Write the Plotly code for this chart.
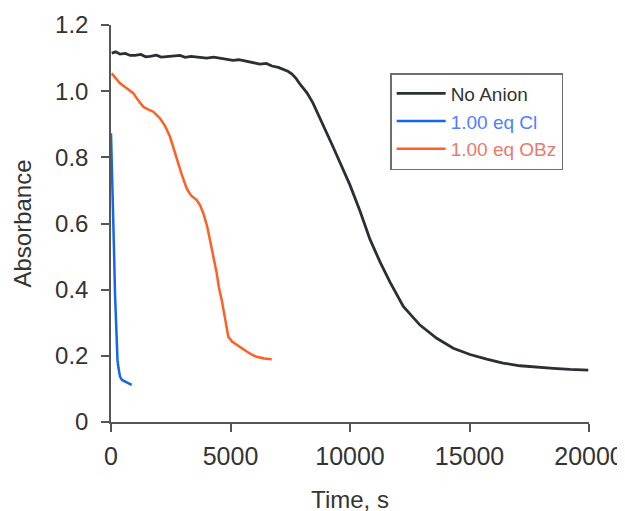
import plotly.graph_objects as go

# ---- data ----
t_none = [30, 200, 377, 600, 800, 1004, 1250, 1450, 1632, 1900, 2100, 2330, 2600, 2887, 3100,
          3350, 3724, 4000, 4300, 4561, 4850, 5105, 5350, 5607, 5900, 6234, 6500, 6736, 7000,
          7197, 7400, 7573, 7750, 7908, 8201, 8452, 8745, 9025, 9289, 10000, 10418, 10837,
          11255, 11674, 12230, 12929, 13628, 14322, 15021, 15720, 16402, 17113, 17824, 18506,
          19205, 19971]
a_none = [1.115, 1.119, 1.112, 1.114, 1.108, 1.108, 1.111, 1.104, 1.105, 1.109, 1.103, 1.104,
          1.107, 1.108, 1.102, 1.105, 1.102, 1.100, 1.103, 1.099, 1.096, 1.093, 1.095, 1.091,
          1.087, 1.082, 1.084, 1.076, 1.072, 1.066, 1.060, 1.052, 1.038, 1.021, 0.995, 0.964,
          0.919, 0.874, 0.832, 0.716, 0.638, 0.552, 0.484, 0.423, 0.349, 0.293, 0.253, 0.223,
          0.204, 0.190, 0.178, 0.170, 0.165, 0.162, 0.159, 0.157]

t_cl = [0, 8, 29, 50, 63, 84, 96, 126, 167, 201, 238, 272, 314, 377, 460, 657, 866]
a_cl = [0.873, 0.852, 0.807, 0.792, 0.716, 0.671, 0.590, 0.520, 0.389, 0.308, 0.228, 0.187,
        0.163, 0.137, 0.127, 0.119, 0.112]

t_obz = [30, 209, 377, 628, 933, 1130, 1351, 1548, 1770, 2050, 2259, 2469, 2615, 2749, 2950,
         3167, 3347, 3586, 3724, 3862, 4017, 4142, 4289, 4423, 4519, 4632, 4770, 4908, 5063,
         5259, 5460, 5678, 5879, 6096, 6402, 6724]
a_obz = [1.054, 1.040, 1.024, 1.010, 0.994, 0.973, 0.953, 0.945, 0.938, 0.918, 0.895, 0.862,
         0.828, 0.792, 0.750, 0.706, 0.685, 0.671, 0.656, 0.631, 0.593, 0.550, 0.499, 0.450,
         0.405, 0.369, 0.314, 0.258, 0.243, 0.233, 0.222, 0.213, 0.204, 0.197, 0.192, 0.190]

series_names = ["No Anion", "1.00 eq Cl", "1.00 eq OBz"]
x_ticks = [0, 5000, 10000, 15000, 20000]
x_tick_text = ["0", "5000", "10000", "15000", "20000"]
y_ticks = [0, 0.2, 0.4, 0.6, 0.8, 1.0, 1.2]
y_tick_text = ["0", "0.2", "0.4", "0.6", "0.8", "1.0", "1.2"]

FONT = "Liberation Sans, Arial, sans-serif"
AXIS_COLOR = "#555555"

fig = go.Figure()
fig.add_trace(go.Scatter(
    x=t_none, y=a_none, mode="lines",
    name='<span style="color:#333333">' + series_names[0] + "</span>",
    line=dict(color="#2b2e33", width=2.8)))
fig.add_trace(go.Scatter(
    x=t_cl, y=a_cl, mode="lines",
    name='<span style="color:#4d80ff">' + series_names[1] + "</span>",
    line=dict(color="#1466f0", width=2.5)))
fig.add_trace(go.Scatter(
    x=t_obz, y=a_obz, mode="lines",
    name='<span style="color:#e97a6c">' + series_names[2] + "</span>",
    line=dict(color="#ff5f24", width=2.5)))

# the page body keeps its default 8px margin, so the margins below are
# shifted by 8px to place the plot area where the reference has it
fig.update_layout(
    width=625, height=511,
    margin=dict(l=103, r=44, t=17, b=97),
    paper_bgcolor="white", plot_bgcolor="white",
    font=dict(family=FONT, color="#333333"),
    showlegend=True,
    legend=dict(
        x=0.584, y=0.879, xanchor="left", yanchor="top",
        bgcolor="white", bordercolor="#6e6e6e", borderwidth=1.5,
        font=dict(family=FONT, size=19, color="#333333"),
        itemwidth=49, tracegroupgap=0,
    ),
    xaxis=dict(
        range=[0, 20000], tickmode="array", tickvals=x_ticks, ticktext=x_tick_text,
        automargin=False,
        showgrid=False, zeroline=False, showline=True, linecolor=AXIS_COLOR, linewidth=1.5,
        ticks="outside", ticklen=8, tickwidth=1.5, tickcolor=AXIS_COLOR,
        tickfont=dict(family=FONT, size=25, color="#333333"),
        ticklabelstandoff=3,
        title=dict(text="Time, s", font=dict(family=FONT, size=24, color="#333333"),
                   standoff=22),
    ),
    yaxis=dict(
        range=[0, 1.2], tickmode="array", tickvals=y_ticks, ticktext=y_tick_text,
        automargin=False,
        showgrid=False, zeroline=False, showline=True, linecolor=AXIS_COLOR, linewidth=1.5,
        ticks="outside", ticklen=8, tickwidth=1.5, tickcolor=AXIS_COLOR,
        tickfont=dict(family=FONT, size=24, color="#333333"),
        ticklabelstandoff=8,
        title=dict(text="Absorbance", font=dict(family=FONT, size=24, color="#333333"),
                   standoff=17),
    ),
)

fig.write_html("out.html", config={"displayModeBar": False})
